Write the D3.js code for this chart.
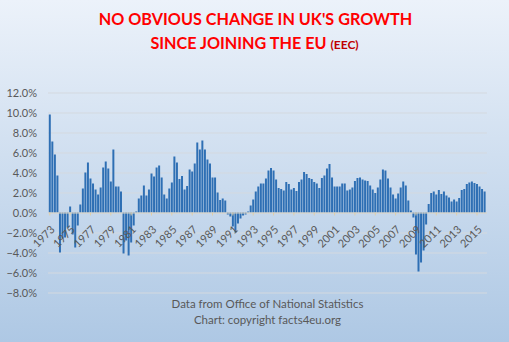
<!DOCTYPE html>
<html><head><meta charset="utf-8">
<script src="https://cdn.jsdelivr.net/npm/d3@7"></script>
<style>html,body{margin:0;padding:0;overflow:hidden;background:#fff}</style>
</head><body>
<svg id="chart" width="509" height="342"></svg>
<script>
// ---- data (UK GDP growth, % change on same quarter a year earlier) ----
const years = d3.range(1973, 2016);           // 1973 .. 2015
const quarterNames = ["Q1", "Q2", "Q3", "Q4"];
const growth = [
  9.8, 7.1, 5.8, 3.7,      // 1973
  -4.0, -2.6, -2.5, -1.5,  // 1974
  0.6, -2.2, -3.5, -1.3,   // 1975
  0.8, 2.4, 4.0, 5.0,      // 1976
  3.4, 2.9, 2.3, 1.8,      // 1977
  2.5, 4.5, 5.1, 4.4,      // 1978
  3.1, 6.3, 2.6, 2.6,      // 1979
  2.1, -4.1, -2.8, -4.3,   // 1980
  -3.0, -1.3, 0.1, 1.4,    // 1981
  1.7, 2.7, 1.7, 2.3,      // 1982
  3.9, 3.6, 4.5, 4.7,      // 1983
  3.5, 1.8, 1.4, 2.4,      // 1984
  3.0, 5.6, 5.0, 3.35,     // 1985
  3.65, 2.3, 2.65, 4.3,    // 1986
  4.1, 4.9, 7.0, 6.3,      // 1987
  7.2, 6.3, 5.3, 4.9,      // 1988
  3.5, 3.5, 2.0, 1.25,     // 1989
  1.4, 1.2, -0.2, -0.4,    // 1990
  -1.4, -2.0, -1.1, -0.6,  // 1991
  -0.3, -0.2, 0.1, 0.7,    // 1992
  1.3, 2.1, 2.6, 2.9,      // 1993
  2.9, 3.4, 4.2, 4.45,     // 1994
  4.2, 3.3, 2.45, 2.35,    // 1995
  2.2, 3.05, 2.85, 2.3,    // 1996
  2.45, 2.15, 3.05, 3.3,   // 1997
  4.05, 3.85, 3.45, 3.35,  // 1998
  3.05, 2.9, 2.45, 3.45,   // 1999
  3.7, 4.4, 4.85, 3.5,     // 2000
  2.6, 2.6, 2.6, 2.9,      // 2001
  2.9, 2.2, 2.3, 2.5,      // 2002
  3.15, 3.45, 3.5, 3.3,    // 2003
  3.2, 3.15, 2.7, 2.3,     // 2004
  1.95, 2.5, 3.3, 4.3,     // 2005
  4.2, 3.4, 2.5, 1.8,      // 2006
  1.4, 1.9, 2.5, 3.1,      // 2007
  2.7, 1.2, 0.2, -0.5,     // 2008
  -4.2, -5.9, -5.0, -3.8,  // 2009
  -1.2, 0.85, 1.95, 2.1,   // 2010
  1.8, 2.25, 1.85, 2.1,    // 2011
  1.7, 1.5, 1.1, 1.3,      // 2012
  1.1, 1.45, 2.25, 2.35,   // 2013
  2.85, 3.0, 3.1, 2.95,    // 2014
  2.85, 2.6, 2.35, 2.1     // 2015
];
const tickLabels = ["1973","1975","1977","1979","1981","1983","1985","1987","1989","1991",
  "1993","1995","1997","1999","2001","2003","2005","2007","2009","2011","2013","2015"];
const yTicks = [-8, -6, -4, -2, 0, 2, 4, 6, 8, 10, 12];
const titleLine1 = "NO OBVIOUS CHANGE IN UK'S GROWTH";
const titleLine2 = "SINCE JOINING THE EU ";
const titleSuffix = "(EEC)";
const sourceLines = ["Data from Office of National Statistics", "Chart: copyright facts4eu.org"];

// ---- build ----
const categories = [];
years.forEach(y => quarterNames.forEach(q => categories.push(y + " " + q)));
const rows = categories.map((c, i) => ({cat: c, value: growth[i]}));

const W = 509, H = 342;
const plot = {left: 48, right: 487, top: 92.5, bottom: 292.5};
const svg = d3.select("#chart");
const FONT = "Lato, 'Open Sans', sans-serif";

const defs = svg.append("defs");
const grad = defs.append("linearGradient").attr("id", "bg").attr("x1", 0).attr("y1", 0).attr("x2", 0).attr("y2", 1);
grad.append("stop").attr("offset", "0%").attr("stop-color", "#ecf2fa");
grad.append("stop").attr("offset", "100%").attr("stop-color", "#aec8e4");
svg.append("rect").attr("width", W).attr("height", H).attr("fill", "url(#bg)");

const x = d3.scaleBand().domain(categories).range([48.8, 485.6]).paddingInner(0.22).paddingOuter(0);
const y = d3.scaleLinear().domain([-8, 12]).range([plot.bottom, plot.top]);

// gridlines + y labels
const yAxis = d3.axisLeft(y).tickValues(yTicks).tickSize(-(plot.right - plot.left))
  .tickFormat(d => d3.format(".1f")(d) + "%").tickPadding(11);
const gy = svg.append("g").attr("transform", `translate(${plot.left},0)`).call(yAxis);
gy.select(".domain").remove();
gy.selectAll(".tick line").attr("stroke", "#d4d9df").attr("stroke-width", 1);
gy.selectAll(".tick text").attr("fill", "#595959").style("font-family", FONT).style("font-size", "11px");

// bars
svg.append("g").selectAll("rect").data(rows).join("rect")
  .attr("x", d => x(d.cat))
  .attr("width", x.bandwidth())
  .attr("y", d => y(Math.max(0, d.value)))
  .attr("height", d => Math.abs(y(d.value) - y(0)))
  .attr("fill", "#2e6fb4");

// zero axis with category ticks/labels
const labelCats = categories.filter(c => c.endsWith("Q1") && tickLabels.includes(c.slice(0, 4)));
const xAxis = d3.axisBottom(x).tickValues(labelCats).tickSize(3).tickPadding(2)
  .tickFormat(c => c.slice(0, 4));
const gx = svg.append("g").attr("transform", `translate(0,${y(0)})`).call(xAxis);
gx.select(".domain").attr("stroke", "#d9d3c4").attr("d", `M${plot.left},0.5H${plot.right}`);
gx.selectAll(".tick line").attr("stroke", "#e0cfa8");
gx.selectAll(".tick text")
  .attr("fill", "#595959").style("font-family", FONT).style("font-size", "11px")
  .attr("text-anchor", "end")
  .attr("transform", "translate(3,15) rotate(-45)")
  .attr("dy", "0.35em").attr("y", 0).attr("x", 0);

// title
const title = svg.append("g").style("font-family", FONT).style("font-weight", "bold").attr("fill", "#ff0000");
title.append("text").attr("x", 255.5).attr("y", 25).attr("text-anchor", "middle")
  .style("font-size", "16.2px").text(titleLine1);
const t2 = title.append("text").attr("x", 254.5).attr("y", 48.5).attr("text-anchor", "middle").style("font-size", "16.2px");
t2.append("tspan").text(titleLine2);
t2.append("tspan").style("font-size", "12px").attr("fill", "#c00000").text(titleSuffix);

// source
svg.append("g").selectAll("text").data(sourceLines).join("text")
  .attr("x", (plot.left + plot.right) / 2).attr("y", (d, i) => 307.5 + i * 16)
  .attr("text-anchor", "middle").attr("fill", "#595959")
  .style("font-family", FONT).style("font-size", "11.5px").text(d => d);
</script>
</body></html>
